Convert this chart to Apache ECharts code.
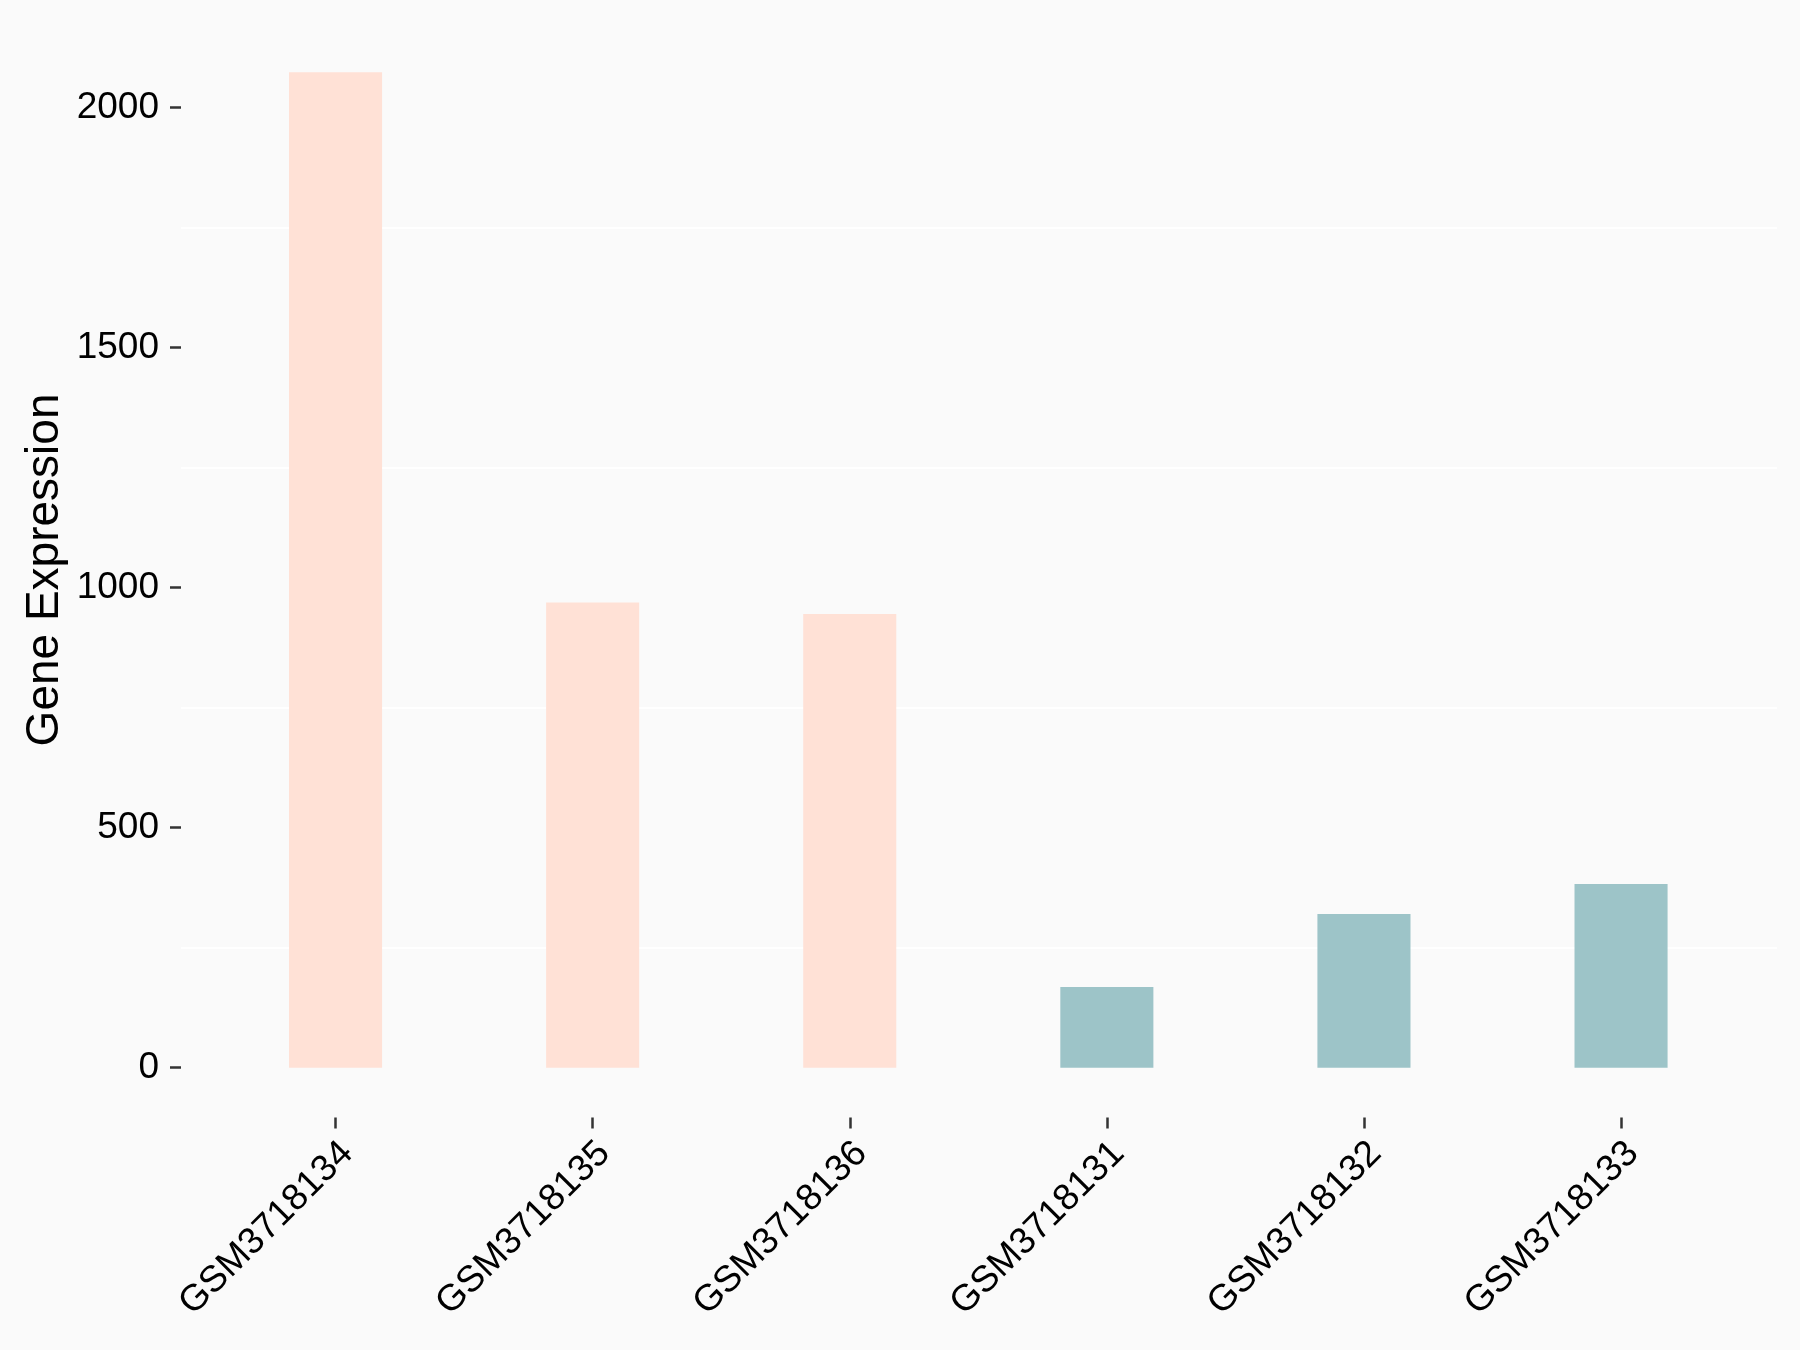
<!DOCTYPE html>
<html>
<head>
<meta charset="utf-8">
<script src="https://cdn.jsdelivr.net/npm/echarts@6/dist/echarts.min.js"></script>
<style>
  html, body { margin: 0; padding: 0; background: #FAFAFA; }
  #chart { width: 1800px; height: 1350px; }
</style>
</head>
<body>
<div id="chart"></div>
<script>
// ---- data ----
const samples = ['GSM3718134', 'GSM3718135', 'GSM3718136', 'GSM3718131', 'GSM3718132', 'GSM3718133'];
const expression = [2074, 969, 945, 168, 320, 383];
const groups = ['A', 'A', 'A', 'B', 'B', 'B'];
const groupColors = { A: '#FFE1D6', B: '#9DC4C8' };
const yTicks = [0, 500, 1000, 1500, 2000];
const yTitle = 'Gene Expression';

// ---- layout (ggplot-like 5% expansion of the value range) ----
const panelTop = 22.4, panelBottom = 1117.5;
const panelLeft = 181, panelRight = 1777;
const dataMax = Math.max(...expression);
const lo = -0.05 * dataMax, hi = 1.05 * dataMax;
const pxPerUnit = (panelBottom - panelTop) / (hi - lo);
const px = v => panelBottom - (v - lo) * pxPerUnit;
const tickMin = yTicks[0], tickMax = yTicks[yTicks.length - 1];
const tickStep = yTicks[1] - yTicks[0];

const FONT = 'Liberation Sans, Arial, sans-serif';

const chart = echarts.init(document.getElementById('chart'), null, { renderer: 'canvas' });
chart.setOption({
  backgroundColor: '#FAFAFA',
  animation: false,
  grid: [
    { left: 207, right: 1800 - 1749.6, top: panelTop, bottom: 1350 - panelBottom, containLabel: false },
    { left: panelLeft, right: 1800 - panelRight, top: px(tickMax), bottom: 1350 - px(tickMin), containLabel: false }
  ],
  xAxis: [
    {
      type: 'category', gridIndex: 0, data: samples,
      axisLine: { show: false, onZero: false },
      axisTick: { show: true, alignWithLabel: true, length: 11, lineStyle: { color: '#333333', width: 2.5 } },
      axisLabel: {
        interval: 0, rotate: 45, fontSize: 37, fontFamily: FONT, color: '#000000',
        margin: 18.5, verticalAlign: 'top', lineHeight: 33
      },
      splitLine: { show: false }
    },
    { type: 'value', gridIndex: 1, min: 0, max: 1, show: false }
  ],
  yAxis: [
    {
      type: 'value', gridIndex: 0, min: lo, max: hi,
      name: yTitle, nameLocation: 'middle', nameGap: 139,
      nameTextStyle: { fontSize: 46, fontFamily: FONT, color: '#000000' },
      axisLine: { show: false }, axisTick: { show: false }, axisLabel: { show: false },
      splitLine: { show: false }
    },
    {
      type: 'value', gridIndex: 1, min: tickMin, max: tickMax, interval: tickStep,
      axisLine: { show: false },
      axisTick: { show: true, length: 11, lineStyle: { color: '#333333', width: 2.5 } },
      axisLabel: { fontSize: 37, fontFamily: FONT, color: '#000000', margin: 22, formatter: v => String(v) },
      splitLine: { show: false },
      minorTick: { show: false, splitNumber: 2 },
      minorSplitLine: { show: true, lineStyle: { color: '#FFFFFF', width: 2 } }
    }
  ],
  series: [
    {
      type: 'bar', xAxisIndex: 0, yAxisIndex: 0,
      barWidth: '36.2%',
      data: expression.map((v, i) => ({ value: v, itemStyle: { color: groupColors[groups[i]] } })),
      z: 5
    }
  ]
});
</script>
</body>
</html>
